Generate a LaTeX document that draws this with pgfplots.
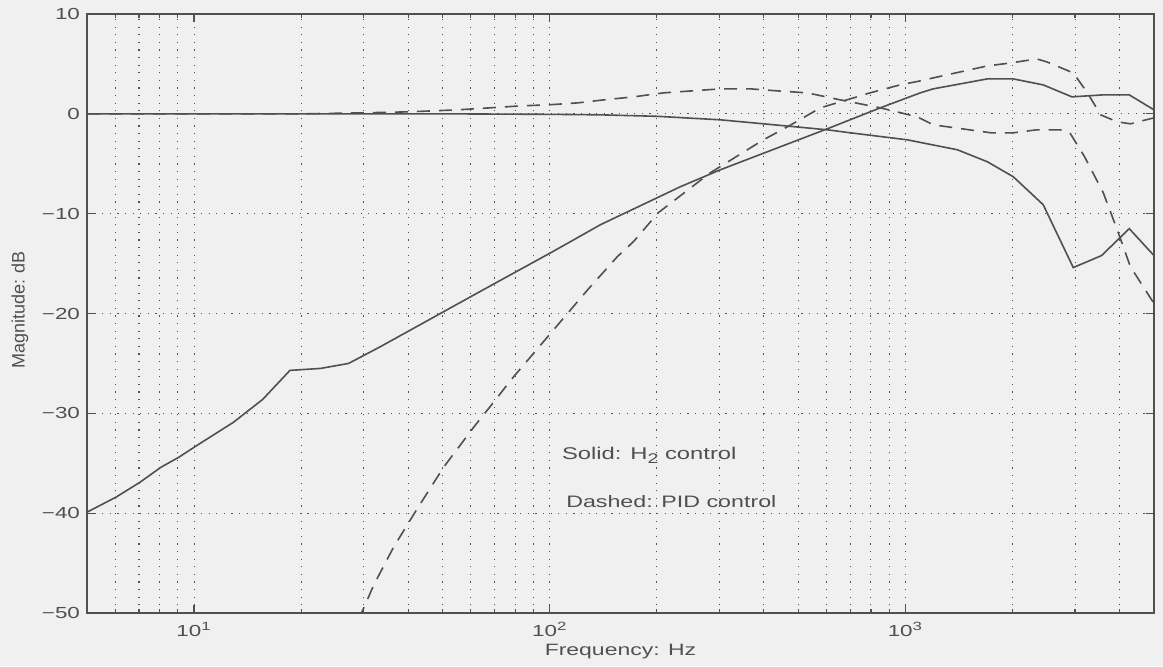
\documentclass[border=0pt]{standalone}
\usepackage{fontspec}
\setmainfont{Liberation Sans}[FakeStretch=1.4]
\newfontfamily\plainsans{Liberation Sans}
\usepackage{pgfplots}
\usepackage{pgfplotstable}
\pgfplotsset{compat=1.18}
\definecolor{bg}{RGB}{240,240,240}
\definecolor{ink}{RGB}{80,80,80}

\pgfplotstableread{
f y
5 -39.9
6.03 -38.4
7.05 -36.9
8.07 -35.4
9.06 -34.4
10.1 -33.3
12.9 -30.9
15.6 -28.6
18.6 -25.7
22.7 -25.5
27.2 -25.0
33.5 -23.3
65.2 -17.6
102 -13.8
139 -11.1
233 -7.3
302 -5.6
603 -1.5
850 0.6
1101 2.1
1197 2.5
1700 3.5
2010 3.5
2440 2.9
2940 1.7
3600 1.9
4260 1.9
5000 0.4
}\solidA

\pgfplotstableread{
f y
5 0
20 0
50 0
100 -0.05
139 -0.1
201 -0.25
302 -0.6
399 -1.0
603 -1.6
700 -1.9
1011 -2.6
1400 -3.6
1700 -4.8
2010 -6.3
2440 -9.1
2965 -15.4
3560 -14.2
4260 -11.5
5000 -14.2
}\solidB

\pgfplotstableread{
f y
29 -50.6
30 -49.5
32 -47.2
36.4 -43.4
42.5 -39.5
50.3 -35.4
61.1 -31.4
71.3 -28.4
77.6 -26.7
128 -17.6
155 -14.3
172 -12.8
202 -9.9
283 -5.9
399 -2.6
466 -1.3
577 0.6
656 1.2
796 2.1
966 2.9
1101 3.3
1197 3.6
1700 4.8
1980 5.1
2340 5.5
2500 5.2
2965 4.1
3250 2.1
3540 -0.1
3940 -0.8
4290 -1.0
5000 -0.4
}\dashC

\pgfplotstableread{
f y
5 0
20 0
30 0.1
40 0.2
55 0.4
68 0.6
83 0.8
99 0.9
120 1.1
142 1.4
172 1.7
209 2.1
302 2.5
367 2.5
436 2.3
530 2.1
656 1.4
850 0.6
1080 -0.3
1197 -1.1
1740 -1.9
2010 -1.9
2340 -1.6
2730 -1.6
2900 -1.9
3190 -4.3
3600 -7.9
3940 -11.6
4290 -15.3
5000 -19.0
}\dashD

\begin{document}
\begin{tikzpicture}
\fill[bg] (-43.5pt,-26.5pt) rectangle (538pt,306.5pt);
\begin{axis}[
  at={(0,0)}, anchor=south west,
  scale only axis, width=533.5pt, height=299.5pt,
  xmode=log, log basis x=10,
  xmin=5, xmax=5000, ymin=-50, ymax=10,
  xtick={10,100,1000},
  xticklabels={10\textsuperscript{1},10\textsuperscript{2},10\textsuperscript{3}},
  minor xtick={6,7,8,9,20,30,40,50,60,70,80,90,200,300,400,500,600,700,800,900,2000,3000,4000},
  ytick={-50,-40,-30,-20,-10,0,10},
  yticklabels={−50,−40,−30,−20,−10,0,10},
  tick align=inside,
  major tick length=4pt, minor tick length=1.8pt,
  every tick/.style={ink, line width=0.6pt},
  axis line style={ink, line width=0.7pt},
  xmajorgrids, xminorgrids, ymajorgrids,
  major grid style={ink, line width=0.55pt, dash pattern=on 0.6pt off 3.2pt},
  minor grid style={ink, line width=0.55pt, dash pattern=on 0.6pt off 3.2pt},
  tick label style={font=\fontsize{8}{9}\selectfont, text=ink},
  xticklabel style={yshift=-1.2pt},
  xlabel={Frequency: Hz},
  ylabel={Magnitude: dB},
  xlabel style={font=\fontsize{8.2}{10}\selectfont, text=ink, at={(axis description cs:0.5,0)}, anchor=center, yshift=-19.5pt},
  ylabel style={font=\plainsans\fontsize{9}{10}\selectfont, text=ink, at={(axis description cs:0,0.5)}, anchor=center, yshift=33.5pt, xshift=1.75pt},
  clip=true,
]
\addplot[ink, line width=0.8pt] table[x=f,y=y] {\solidA};
\addplot[ink, line width=0.8pt] table[x=f,y=y] {\solidB};
\addplot[ink, line width=0.8pt, dash pattern=on 6.5pt off 4.5pt] table[x=f,y=y] {\dashC};
\addplot[ink, line width=0.8pt, dash pattern=on 6.5pt off 4.5pt] table[x=f,y=y] {\dashD};
\node[anchor=west, inner sep=0pt, text=ink, font=\fontsize{8.5}{10}\selectfont] at (axis cs:108,-34.2) {Solid: H\raisebox{-0.45ex}{\fontsize{7}{8}\selectfont 2} control};
\node[anchor=west, inner sep=0pt, text=ink, font=\fontsize{8.3}{10}\selectfont] at (axis cs:111,-38.8) {Dashed: PID control};
\end{axis}
\end{tikzpicture}
\end{document}
